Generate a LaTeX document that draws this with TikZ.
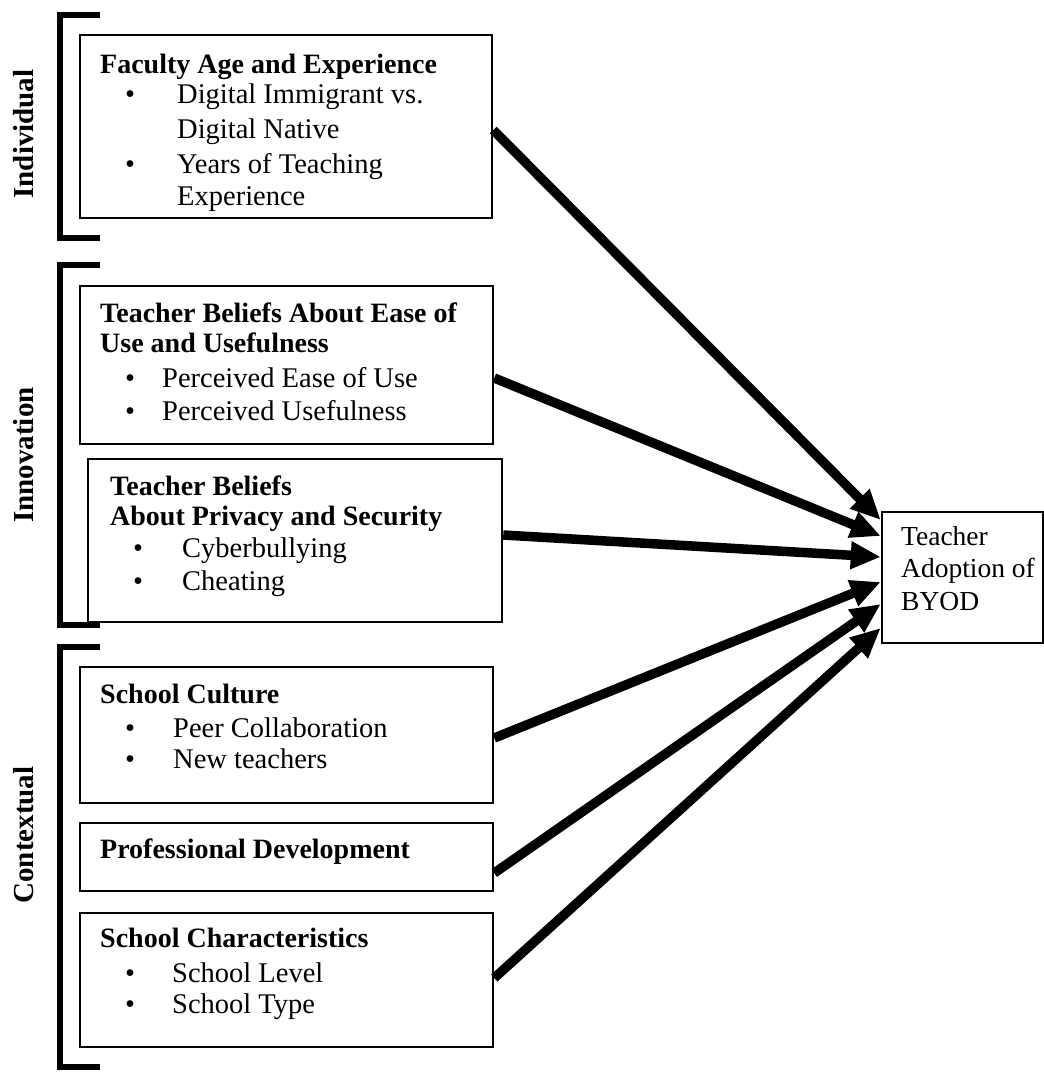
\documentclass[tikz,border=0pt]{standalone}
\usepackage{fontspec}
\setmainfont{Liberation Serif}
\usetikzlibrary{arrows.meta}
\begin{document}
\begin{tikzpicture}[x=1pt,y=-1pt,
  box/.style={draw=black,line width=2.5pt,inner sep=0pt,minimum width=#1},
  txt/.style={anchor=base west,inner sep=0pt,font=\fontsize{28.5}{34}\selectfont},
  ttl/.style={txt,font=\fontsize{28}{34}\selectfont\bfseries},
  side/.style={rotate=90,inner sep=0pt,font=\fontsize{29}{34}\selectfont\bfseries},
  brk/.style={line width=5.5pt,line join=miter},
  arr/.style={line width=9.5pt,-{Triangle[length=30pt,width=26pt]}}]
\useasboundingbox (0,0) rectangle (1044,1072);
% boxes
\node[box=412pt,minimum height=183pt] (b1) at (286,126.5) {};
\node[box=413pt,minimum height=158pt] (b2) at (286.5,365) {};
\node[box=414pt,minimum height=163pt] (b3) at (295,540.5) {};
\node[box=413pt,minimum height=136pt] (b4) at (286.5,735) {};
\node[box=413pt,minimum height=68pt] (b5) at (286.5,857) {};
\node[box=413pt,minimum height=134pt] (b6) at (286.5,980) {};
\node[box=161pt,minimum height=131pt] (tgt) at (962.5,577.5) {};
% brackets
\draw[brk] (100,15) -- (60,15) -- (60,238) -- (100,238);
\draw[brk] (100,265) -- (60,265) -- (60,625) -- (100,625);
\draw[brk] (100,647) -- (60,647) -- (60,1067) -- (100,1067);
\node[side] (lInd) at (24,134) {Individual};
\node[side] (lInn) at (24,455) {Innovation};
\node[side] (lCon) at (24,835) {Contextual};
% box 1
\node[ttl] (t1) at (100,73) {Faculty Age and Experience};
\node[txt] (t1a) at (125,103) {•};
\node[txt] (t1b) at (177,103) {Digital Immigrant vs.};
\node[txt] (t1c) at (177,138) {Digital Native};
\node[txt] (t1d) at (125,173) {•};
\node[txt] (t1e) at (177,173) {Years of Teaching};
\node[txt] (t1f) at (177,205) {Experience};
% box 2
\node[ttl] (t2) at (100,322) {Teacher Beliefs About Ease of};
\node[ttl] (t2a) at (100,352) {Use and Usefulness};
\node[txt] (t2b) at (125,387) {•};
\node[txt] (t2c) at (162,387) {Perceived Ease of Use};
\node[txt] (t2d) at (125,420) {•};
\node[txt] (t2e) at (162,420) {Perceived Usefulness};
% box 3
\node[ttl] (t3) at (110,495) {Teacher Beliefs};
\node[ttl] (t3a) at (110,525) {About Privacy and Security};
\node[txt] (t3b) at (133,557) {•};
\node[txt] (t3c) at (182,557) {Cyberbullying};
\node[txt] (t3d) at (133,590) {•};
\node[txt] (t3e) at (182,590) {Cheating};
% box 4
\node[ttl] (t4) at (100,703) {School Culture};
\node[txt] (t4a) at (125,737) {•};
\node[txt] (t4b) at (173,737) {Peer Collaboration};
\node[txt] (t4c) at (125,768) {•};
\node[txt] (t4d) at (173,768) {New teachers};
% box 5
\node[ttl] (t5) at (100,858) {Professional Development};
% box 6
\node[ttl] (t6) at (100,947) {School Characteristics};
\node[txt] (t6a) at (125,982) {•};
\node[txt] (t6b) at (172,982) {School Level};
\node[txt] (t6c) at (125,1013) {•};
\node[txt] (t6d) at (172,1013) {School Type};
% target
\node[txt,font=\fontsize{27.5}{34}\selectfont] (tt1) at (901,545) {Teacher};
\node[txt,font=\fontsize{27.5}{34}\selectfont] (tt2) at (901,577) {Adoption of};
\node[txt,font=\fontsize{27.5}{34}\selectfont] (tt3) at (901,610) {BYOD};
% arrows
\draw[arr] ([yshift=-3.5pt]b1.east) -- ([yshift=57.5pt]tgt.west);
\draw[arr] ([yshift=-13pt]b2.east) -- ([yshift=41.5pt]tgt.west);
\draw[arr] ([yshift=5.5pt]b3.east) -- ([yshift=20.5pt]tgt.west);
\draw[arr] ([yshift=-3pt]b4.east) -- ([yshift=-4.5pt]tgt.west);
\draw[arr] ([yshift=-16pt]b5.east) -- ([yshift=-26.5pt]tgt.west);
\draw[arr] ([yshift=2pt]b6.east) -- ([yshift=-50.5pt]tgt.west);
\end{tikzpicture}
\end{document}
